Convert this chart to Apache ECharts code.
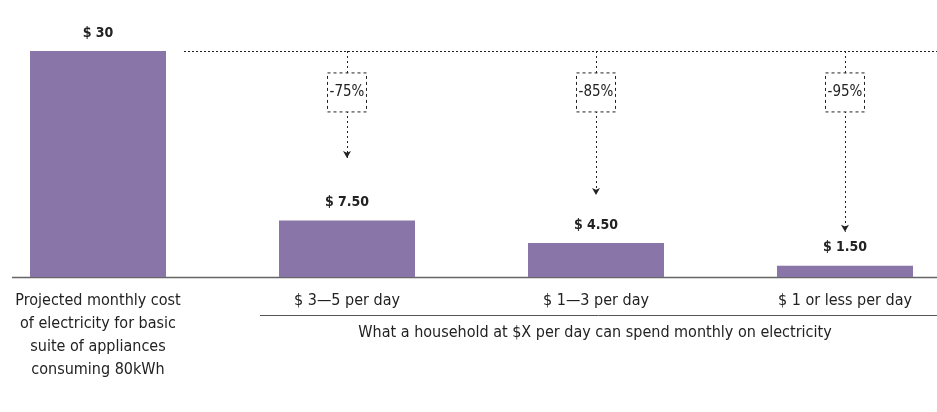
<!DOCTYPE html>
<html>
<head>
<meta charset="UTF-8">
<title>Electricity cost</title>
<script src="https://cdn.jsdelivr.net/npm/echarts@6/dist/echarts.min.js"></script>
<style>
	html, body { margin: 0; padding: 0; background: #fff; }
	#main { width: 937px; height: 412px; }
</style>
</head>
<body>
<div id="main"></div>
<script type="text/javascript">
	var categories = ['Projected monthly cost\nof electricity for basic\nsuite of appliances\nconsuming 80kWh', '$ 3\u20145 per day', '$ 1\u20143 per day', '$ 1 or less per day'];
	var costs = [30, 7.5, 4.5, 1.5];
	var drops = ['-75%', '-85%', '-95%'];
	var arrowEnds = [15.8, 10.9, 6.0];   // where the dotted arrows stop (value units)
	var boxLevel = 24.5;                 // level of the percent boxes
	var groupTitle = 'What a household at $X per day can spend monthly on electricity';

	var font = '"Liberation Sans Narrow", "DejaVu Sans Condensed", "Roboto", sans-serif';
	var ink = '#222';

	var arrowData = [];
	var boxData = [];
	for (var i = 0; i < drops.length; i++) {
		arrowData.push([{ coord: [i + 1, costs[0]] }, { coord: [i + 1, arrowEnds[i]] }]);
		boxData.push({ coord: [i + 1, boxLevel], value: drops[i] });
	}

	var myChart = echarts.init(document.getElementById('main'));
	var option = {
		animation: false,
		grid: { left: -26.5, top: 51, width: 996, bottom: 135, outerBoundsMode: 'none', containLabel: false },
		xAxis: {
			type: 'category',
			data: categories,
			axisLine: { show: false },
			axisTick: { show: false },
			axisLabel: {
				margin: 12,
				color: ink,
				fontFamily: font,
				fontSize: 16,
				lineHeight: 23,
				interval: 0
			}
		},
		yAxis: {
			type: 'value',
			min: 0,
			max: 30,
			show: false,
			splitLine: { show: false }
		},
		series: [{
			type: 'bar',
			data: costs,
			barWidth: 136,
			itemStyle: { color: '#8a75a8' },
			label: {
				show: true,
				position: 'top',
				distance: 11,
				color: ink,
				fontFamily: font,
				fontWeight: 'bold',
				fontSize: 14,
				formatter: function (p) {
					return '$ ' + (p.value % 1 === 0 ? p.value : p.value.toFixed(2));
				}
			},
			markLine: {
				silent: true,
				symbol: ['none', 'arrow'],
				symbolSize: [6, 7],
				label: { show: false },
				lineStyle: { color: ink, type: [2, 3], width: 1 },
				data: arrowData
			},
			markPoint: {
				silent: true,
				symbol: 'rect',
				symbolSize: [39, 39],
				z: 10,
				itemStyle: { color: '#fff', borderColor: ink, borderWidth: 1, borderType: [3, 3] },
				label: { show: true, color: ink, fontFamily: font, fontSize: 15, formatter: '{c}' },
				data: boxData
			}
		}]
	};
	myChart.setOption(option);

	var yTop = myChart.convertToPixel({ yAxisIndex: 0 }, costs[0]);
	var yBase = myChart.convertToPixel({ yAxisIndex: 0 }, 0);
	myChart.setOption({
		graphic: [
			{ type: 'line', shape: { x1: 12, y1: yBase + 0.5, x2: 937, y2: yBase + 0.5 }, style: { stroke: '#666', lineWidth: 1.5 } },
			{ type: 'line', shape: { x1: 184, y1: yTop + 0.5, x2: 937, y2: yTop + 0.5 }, style: { stroke: ink, lineWidth: 1, lineDash: [2, 2] } },
			{ type: 'line', shape: { x1: 260, y1: 315.5, x2: 937, y2: 315.5 }, style: { stroke: '#555', lineWidth: 1 } },
			{ type: 'text', x: 595, y: 333, style: { text: groupTitle, fill: ink, font: '16px ' + font, textAlign: 'center', textVerticalAlign: 'middle' } }
		]
	});
</script>
</body>
</html>
